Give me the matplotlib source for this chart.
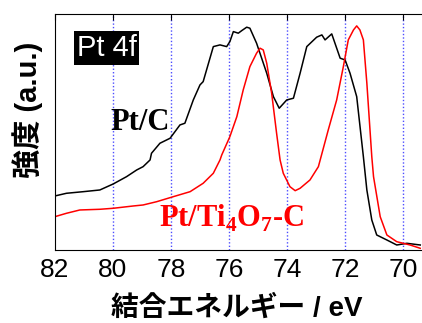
import numpy as np
import matplotlib.pyplot as plt

plt.rcParams['font.family'] = ['Liberation Sans', 'Noto Sans CJK JP', 'DejaVu Sans']
plt.rcParams['mathtext.fontset'] = 'custom'
plt.rcParams['mathtext.rm'] = 'Liberation Serif:bold'
plt.rcParams['mathtext.bf'] = 'Liberation Serif:bold'

# Pt/C (black)
be_ptc = [82.00, 81.60, 81.02, 80.45, 79.99, 79.53, 79.18, 78.96, 78.72, 78.67,
          78.38, 78.03, 77.69, 77.52, 77.23, 77.00, 76.89, 76.54, 76.31, 76.08,
          75.97, 75.85, 75.68, 75.56, 75.39, 75.28, 75.05, 74.70, 74.47, 74.27,
          74.01, 73.78, 73.55, 73.32, 72.98, 72.80, 72.69, 72.46, 72.17, 72.00,
          71.83, 71.60, 71.37, 71.25, 71.08, 70.91, 70.56, 70.22, 69.87, 69.41]
int_ptc = [54, 56.7, 58.3, 60, 66, 73.3, 80, 83.3, 90, 96.7,
           106.7, 111.7, 125, 126.7, 150, 165, 168.3, 203.3, 205, 203.3,
           208.3, 218.3, 216.7, 219.3, 222.7, 221.7, 206.7, 176.7, 153.3, 141.7,
           150, 151.7, 176.7, 203.3, 212.7, 215, 210, 216, 191.7, 190,
           176.7, 153.3, 93.3, 60, 30, 15, 10, 5, 6.7, 5]

# Pt/Ti4O7-C (red)
be_pttio = [82.00, 81.60, 81.14, 80.45, 79.99, 79.30, 78.96, 78.49, 77.92, 77.34,
            76.89, 76.54, 76.31, 76.25, 75.97, 75.73, 75.51, 75.28, 75.05, 74.93,
            74.82, 74.70, 74.53, 74.36, 74.24, 74.13, 73.90, 73.72, 73.55, 73.21,
            72.92, 72.58, 72.29, 72.06, 71.89, 71.71, 71.60, 71.49, 71.37, 71.25,
            71.08, 71.02, 70.79, 70.56, 70.22, 69.76, 69.41]
int_pttio = [33.3, 36.7, 40, 40.7, 41.7, 44, 45, 48.3, 53.3, 58.3,
             66.7, 76.7, 90, 95, 113.3, 133.3, 160, 183.3, 196.7, 201.7,
             200, 186.7, 156.7, 116.7, 90, 76.7, 63.3, 59.3, 61.7, 70,
             83.3, 120, 150, 183.3, 210, 220, 224, 220, 210, 166.7,
             93.3, 73.3, 33.3, 15, 8.3, 5, 1.7]

xticks = [82, 80, 78, 76, 74, 72, 70]

fig = plt.figure(figsize=(4.22, 3.23), dpi=100)
ax = fig.add_axes([0.13, 0.226, 0.87, 0.731])

for x in xticks[1:]:
    ax.axvline(x, color='#4d4dff', linestyle=(0, (1, 1.5)), linewidth=1.0, zorder=0)

ax.plot(be_ptc, int_ptc, color='black', linewidth=1.1)
ax.plot(be_pttio, int_pttio, color='red', linewidth=1.1)

ax.set_xlim(82, 69.35)
ax.set_ylim(0, 236)
ax.set_xticks(xticks)
ax.set_yticks([])
ax.spines['right'].set_visible(False)
ax.tick_params(axis='x', direction='in', top=True, bottom=False, length=4,
               labelsize=19, pad=6)

fig.text(0.562, 0.046, '結合エネルギー / eV', fontsize=20, fontweight='bold',
         ha='center', va='center')
fig.text(0.066, 0.66, '強度 (a.u.)', fontsize=21, fontweight='bold',
         rotation=90, ha='center', va='center')

ax.text(81.25, 194, 'Pt 4f', color='white', fontsize=21,
        va='baseline', ha='left',
        bbox=dict(facecolor='black', edgecolor='none', pad=2.0))
ax.text(80.1, 120, 'Pt/C', color='black', fontsize=22, fontweight='bold',
        family='Liberation Serif', ha='left', va='baseline')
ax.text(78.4, 23, 'Pt/Ti$_\\mathbf{4}$O$_\\mathbf{7}$-C', color='red', fontsize=22,
        fontweight='bold', family='Liberation Serif', ha='left', va='baseline')

plt.savefig('out.png', dpi=100)
